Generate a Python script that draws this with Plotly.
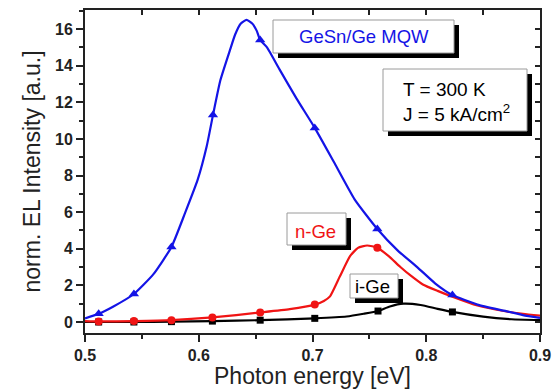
import plotly.graph_objects as go

# ---------------- data ----------------
mqw_x = [0.500, 0.512, 0.525, 0.543, 0.560, 0.576, 0.588, 0.599, 0.607, 0.6125, 0.619,
         0.6275, 0.632, 0.637, 0.642, 0.647, 0.651, 0.654, 0.660, 0.671, 0.686, 0.702, 0.720,
         0.737, 0.757, 0.775, 0.792, 0.808, 0.823, 0.845, 0.868, 0.885, 0.900]
mqw_y = [0.20, 0.45, 0.85, 1.53, 2.6, 4.1, 5.96, 7.76, 9.6, 11.3, 13.2,
         14.86, 15.7, 16.3, 16.5, 16.3, 15.9, 15.4, 15.0, 13.8, 12.2, 10.6, 8.6,
         6.7, 5.08, 3.9, 3.0, 2.1, 1.47, 0.95, 0.62, 0.38, 0.22]
mqw_mx = [0.512, 0.543, 0.576, 0.6125, 0.654, 0.702, 0.757, 0.823]
mqw_my = [0.45, 1.53, 4.1, 11.3, 15.4, 10.6, 5.08, 1.47]

nge_x = [0.500, 0.512, 0.543, 0.576, 0.612, 0.654, 0.680, 0.702, 0.710, 0.7154, 0.724,
         0.733, 0.740, 0.748, 0.757, 0.767, 0.777, 0.787, 0.797, 0.810, 0.823, 0.845,
         0.868, 0.885, 0.900]
nge_y = [0.05, 0.03, 0.05, 0.10, 0.25, 0.52, 0.70, 0.95, 1.15, 1.40, 2.48,
         3.60, 4.05, 4.18, 4.06, 3.60, 3.02, 2.50, 2.05, 1.70, 1.38, 0.90,
         0.60, 0.45, 0.35]
nge_mx = [0.512, 0.543, 0.576, 0.612, 0.654, 0.702, 0.757]
nge_my = [0.03, 0.05, 0.10, 0.25, 0.52, 0.95, 4.06]

ige_x = [0.500, 0.512, 0.543, 0.576, 0.612, 0.654, 0.702, 0.730, 0.745, 0.7576,
         0.768, 0.780, 0.795, 0.810, 0.823, 0.850, 0.875, 0.900]
ige_y = [0.00, 0.00, 0.00, 0.02, 0.05, 0.10, 0.20, 0.30, 0.45, 0.60,
         0.85, 1.00, 0.93, 0.72, 0.55, 0.29, 0.15, 0.10]
ige_mx = [0.512, 0.543, 0.576, 0.612, 0.654, 0.702, 0.7576, 0.823]
ige_my = [0.00, 0.00, 0.02, 0.05, 0.10, 0.20, 0.60, 0.55]

x_ticks = [0.5, 0.6, 0.7, 0.8, 0.9]
y_ticks = [0, 2, 4, 6, 8, 10, 12, 14, 16]

BLUE = "#1414e6"
RED = "#f01414"
BLACK = "#000000"
FONT = "Arial, 'Liberation Sans', sans-serif"

W, H = 552, 389
L, R, T, B = 85, 540, 10, 333


def px(xp):
    return (xp - L) / (R - L)


def py(yp):
    return (B - yp) / (B - T)


fig = go.Figure()

series = [
    (mqw_x, mqw_y, mqw_mx, mqw_my, BLUE, "triangle-up", 9),
    (nge_x, nge_y, nge_mx, nge_my, RED, "circle", 8),
    (ige_x, ige_y, ige_mx, ige_my, BLACK, "square", 7),
]
for lx, ly, mx, my, col, sym, sz in reversed(series):
    fig.add_trace(go.Scatter(x=lx, y=ly, mode="lines",
                             line=dict(color=col, width=2.2, shape="spline", smoothing=0.5),
                             showlegend=False, hoverinfo="skip"))
    fig.add_trace(go.Scatter(x=mx, y=my, mode="markers", marker=dict(color=col, symbol=sym, size=sz),
                             showlegend=False, hoverinfo="skip"))

# dummy trace so the mirrored inside-tick axes are drawn
fig.add_trace(go.Scatter(x=[None], y=[None], xaxis="x2", yaxis="y2", showlegend=False, hoverinfo="skip"))

xr = [0.5, 0.9]
yr = [-0.6, 17.04]
AX = "#222"

fig.update_layout(
    width=W, height=H,
    margin=dict(l=L, r=W - R, t=T, b=H - B, pad=0, autoexpand=False),
    paper_bgcolor="white", plot_bgcolor="white",
    font=dict(family=FONT, color="black"),
    xaxis=dict(range=xr, tickvals=x_ticks, ticktext=[f"{v:.1f}" for v in x_ticks], automargin=False,
               ticks="outside", ticklen=7, tickwidth=1.5, tickcolor=AX,
               minor=dict(dtick=0.05, tick0=0.5, ticks="outside", ticklen=4, tickwidth=1.5, tickcolor=AX),
               showline=True, linewidth=2, linecolor=AX, showgrid=False, zeroline=False,
               tickfont=dict(size=16, family=FONT, weight="bold", color=AX),
               title=dict(text="Photon energy [eV]", font=dict(size=23, family=FONT, color=AX), standoff=2)),
    yaxis=dict(range=yr, tickvals=y_ticks, ticks="outside", ticklen=7, tickwidth=1.5, tickcolor=AX,
               automargin=False,
               minor=dict(dtick=1, tick0=0, ticks="outside", ticklen=4, tickwidth=1.5, tickcolor=AX),
               showline=True, linewidth=2, linecolor=AX, showgrid=False, zeroline=False,
               tickfont=dict(size=16, family=FONT, weight="bold", color=AX),
               title=dict(text="norm. EL Intensity [a.u.]", font=dict(size=23, family=FONT, color=AX), standoff=8)),
    xaxis2=dict(range=xr, overlaying="x", side="top", dtick=0.05, tick0=0.5, ticks="inside", ticklen=5,
                automargin=False,
                tickwidth=1.5, tickcolor=AX, showticklabels=False, showline=True, linewidth=2,
                linecolor=AX, showgrid=False, zeroline=False),
    yaxis2=dict(range=yr, overlaying="y", side="right", dtick=1, tick0=0, ticks="inside", ticklen=5,
                automargin=False,
                tickwidth=1.5, tickcolor=AX, showticklabels=False, showline=True, linewidth=2,
                linecolor=AX, showgrid=False, zeroline=False),
)

# label boxes with drop shadows (pixel boxes converted to paper coords)
boxes = [
    (273, 20, 454, 53),
    (383, 69, 527, 131),
    (287, 213, 346, 245),
    (350, 274, 398, 298),
]
SH = 5
for x0, y0, x1, y1 in boxes:
    fig.add_shape(type="rect", xref="paper", yref="paper", x0=px(x0 + SH), x1=px(x1 + SH),
                  y0=py(y1 + SH), y1=py(y0 + SH), fillcolor="black", line=dict(width=0), layer="above")
    fig.add_shape(type="rect", xref="paper", yref="paper", x0=px(x0), x1=px(x1),
                  y0=py(y1), y1=py(y0), fillcolor="white", line=dict(width=1, color="#9a9a9a"), layer="above")

labels = [
    ("GeSn/Ge MQW", 364, 37, BLUE, 18.5, "center"),
    ("T = 300 K", 401, 89, BLACK, 19, "left"),
    ("J = 5 kA/cm<sup>2</sup>", 401, 113, BLACK, 19, "left"),
    ("n-Ge", 315, 231, RED, 18.5, "center"),
    ("i-Ge", 372, 286, BLACK, 18.5, "center"),
]
for txt, x, y, col, sz, al in labels:
    fig.add_annotation(text=txt, xref="paper", yref="paper", x=px(x), y=py(y), xanchor=al, yanchor="middle",
                       showarrow=False, font=dict(size=sz, family=FONT, color=col))

fig.write_html("out.html")
